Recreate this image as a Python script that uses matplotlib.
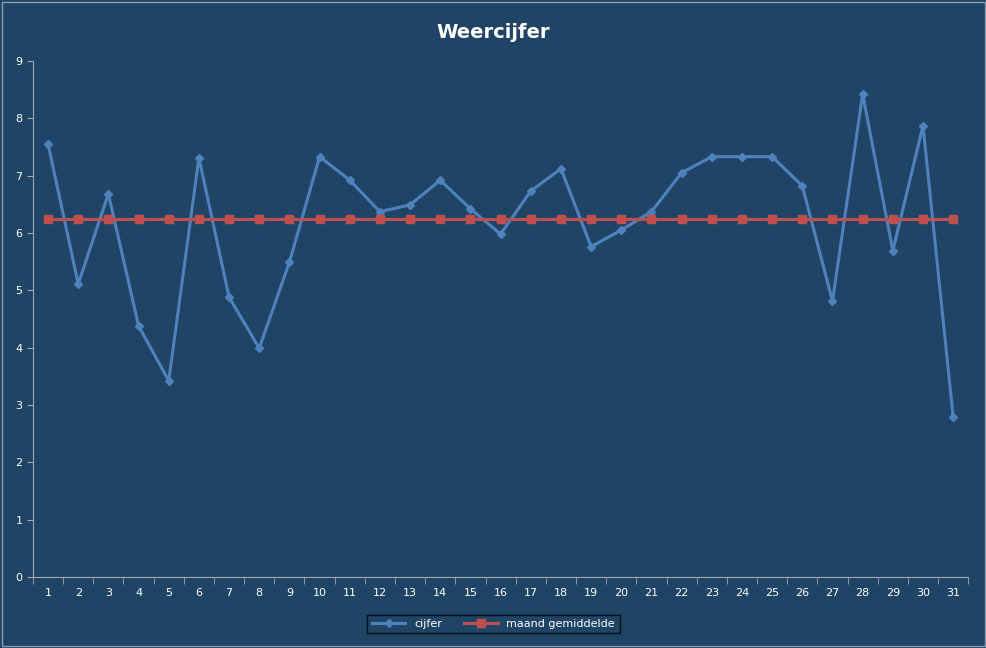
import matplotlib
matplotlib.use("Agg")
import matplotlib.pyplot as plt

days = list(range(1, 32))
cijfer = [7.55, 5.11, 6.68, 4.38, 3.42, 7.31, 4.88, 3.99, 5.49, 7.33, 6.92, 6.37, 6.49, 6.92, 6.42,
          5.98, 6.73, 7.12, 5.76, 6.05, 6.37, 7.05, 7.33, 7.33, 7.33, 6.82, 4.81, 8.42, 5.69, 7.87, 2.79]
gemiddelde = [6.24] * 31

bg = "#1F4465"
fig = plt.figure(figsize=(9.87, 6.48), dpi=100, facecolor=bg)
ax = fig.add_axes([0.0334, 0.1096, 0.9476, 0.7964], facecolor=bg)

ax.plot(days, cijfer, color="#4F81BD", lw=2.2, marker="D", ms=4, label="cijfer")
ax.plot(days, gemiddelde, color="#C0504D", lw=2.2, marker="s", ms=6, label="maand gemiddelde")

ax.set_xlim(0.5, 31.5)
ax.set_ylim(0, 9)
ax.set_yticks(range(0, 10))
ax.set_xticks(days)
ax.set_xticks([d + 0.5 for d in range(0, 32)], minor=True)
ax.tick_params(axis="x", which="major", length=0, colors="white", labelsize=8, pad=8)
ax.tick_params(axis="x", which="minor", length=5, color="#A0A8B8", direction="out")
ax.tick_params(axis="y", length=4, color="#A0A8B8", colors="white", labelsize=8)
for s in ["top", "right"]:
    ax.spines[s].set_visible(False)
for s in ["left", "bottom"]:
    ax.spines[s].set_color("#A0A8B8")

fig.text(0.5, 0.95, "Weercijfer", color="white", fontsize=14, fontweight="bold", ha="center", va="center")

leg = fig.legend(loc="center", bbox_to_anchor=(0.5, 0.037), ncol=2, frameon=True, fontsize=8,
                 facecolor=bg, edgecolor="black", labelcolor="white", fancybox=False, handlelength=3)
fig.patches.append(plt.Rectangle((0.002, 0.003), 0.996, 0.994, transform=fig.transFigure,
                                 fill=False, edgecolor="#8A9AB0", lw=1))
fig.savefig("out.png", dpi=100, facecolor=bg)
